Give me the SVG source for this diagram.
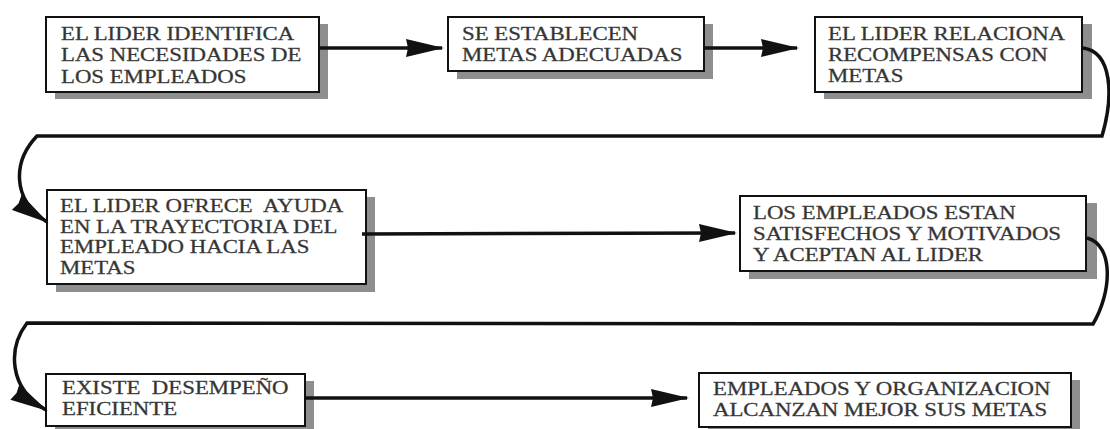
<svg xmlns="http://www.w3.org/2000/svg" width="1110" height="429" viewBox="0 0 1110 429">
<style>
.box{fill:#fff;stroke:#111;stroke-width:2}
.sh{fill:#8e8e8e}
.t{font-family:"Liberation Serif","Times New Roman",serif;font-size:19px;fill:#333;stroke:#444;stroke-width:0.3;white-space:pre}
.c{fill:none;stroke:#111;stroke-width:3.5}
</style>
<defs>
<marker id="ah" markerUnits="userSpaceOnUse" markerWidth="40" markerHeight="20" refX="36" refY="9" orient="auto" viewBox="0 0 40 18">
<path d="M0,0 L38,9 L0,18 L2,9 z" fill="#111"/>
</marker>
</defs>
<rect width="1110" height="429" fill="#fff"/>
<g id="n1">
<rect class="sh" x="55" y="24" width="273" height="75"/>
<rect class="box" x="46" y="17" width="273" height="75"/>
<g transform="translate(61,0) scale(1.2,1)"><text class="t" x="0" y="40">EL LIDER IDENTIFICA</text><text class="t" x="0" y="61.5">LAS NECESIDADES DE</text><text class="t" x="0" y="83">LOS EMPLEADOS</text></g>
</g>
<g id="n2">
<rect class="sh" x="457" y="24" width="256" height="55"/>
<rect class="box" x="448" y="17" width="256" height="54"/>
<g transform="translate(462,0) scale(1.2,1)"><text class="t" x="0" y="40">SE ESTABLECEN</text><text class="t" x="0" y="61">METAS ADECUADAS</text></g>
</g>
<g id="n3">
<rect class="sh" x="824" y="24" width="268" height="75"/>
<rect class="box" x="815" y="17" width="267" height="75"/>
<g transform="translate(828,0) scale(1.2,1)"><text class="t" x="0" y="40">EL LIDER RELACIONA</text><text class="t" x="0" y="61">RECOMPENSAS CON</text><text class="t" x="0" y="82">METAS</text></g>
</g>
<g id="n4">
<rect class="sh" x="56" y="197" width="319" height="95"/>
<rect class="box" x="47" y="190" width="319" height="94"/>
<g transform="translate(60,0) scale(1.2,1)"><text class="t" x="0" y="212">EL LIDER OFRECE  AYUDA</text><text class="t" x="0" y="233">EN LA TRAYECTORIA DEL</text><text class="t" x="0" y="253.5">EMPLEADO HACIA LAS</text><text class="t" x="0" y="274">METAS</text></g>
</g>
<g id="n5">
<rect class="sh" x="749" y="203" width="348" height="76"/>
<rect class="box" x="740" y="196" width="346" height="75"/>
<g transform="translate(753,0) scale(1.2,1)"><text class="t" x="0" y="219.5">LOS EMPLEADOS ESTAN</text><text class="t" x="0" y="240">SATISFECHOS Y MOTIVADOS</text><text class="t" x="0" y="261">Y ACEPTAN AL LIDER</text></g>
</g>
<g id="n6">
<rect class="sh" x="55" y="381" width="259" height="54"/>
<rect class="box" x="46" y="374" width="259" height="52"/>
<g transform="translate(62,0) scale(1.2,1)"><text class="t" x="0" y="394">EXISTE  DESEMPEÑO</text><text class="t" x="0" y="415">EFICIENTE</text></g>
</g>
<g id="n7">
<rect class="sh" x="708" y="380" width="372" height="55"/>
<rect class="box" x="699" y="373" width="372" height="54"/>
<g transform="translate(713,0) scale(1.2,1)"><text class="t" x="0" y="395">EMPLEADOS Y ORGANIZACION</text><text class="t" x="0" y="416">ALCANZAN MEJOR SUS METAS</text></g>
</g>
<g id="connectors">
<path class="c" d="M320,48 L442,48" marker-end="url(#ah)"/>
<path class="c" d="M705,48 L797,48" marker-end="url(#ah)"/>
<path class="c" d="M1083,48 C1112,52 1114,95 1102,136 L37,136 C14,160 10,198 47,222" marker-end="url(#ah)"/>
<path class="c" d="M362,234 L735,233" marker-end="url(#ah)"/>
<path class="c" d="M1087,238 C1114,245 1112,292 1093,324 L27,323 C8,348 8,388 46,410" marker-end="url(#ah)"/>
<path class="c" d="M306,398 L687,398" marker-end="url(#ah)"/>
</g>
</svg>
